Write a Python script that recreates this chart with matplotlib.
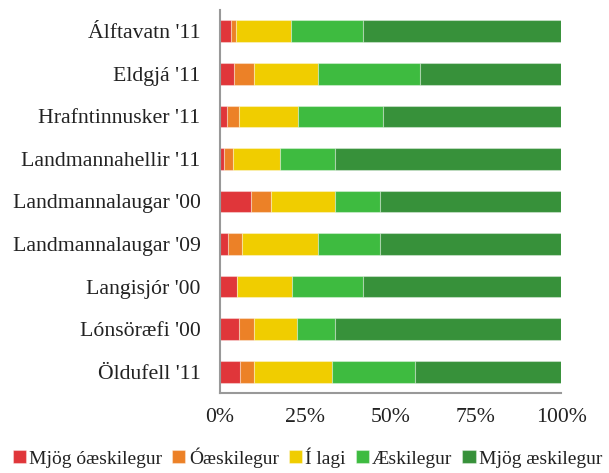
import matplotlib
matplotlib.use("Agg")
import matplotlib.pyplot as plt
from matplotlib.ticker import FuncFormatter

# Gögn lesin af myndinni (prósentur)
stadir = ["Álftavatn '11", "Eldgjá '11", "Hrafntinnusker '11", "Landmannahellir '11",
          "Landmannalaugar '00", "Landmannalaugar '09", "Langisjór '00",
          "Lónsöræfi '00", "Öldufell '11"]
flokkar = ["Mjög óæskilegur", "Óæskilegur", "Í lagi", "Æskilegur", "Mjög æskilegur"]
mjog_oaeskilegur = [3.2, 4.2, 2.0, 1.2, 9.2, 2.3, 5.1, 5.7, 5.9]
oaeskilegur = [1.5, 5.8, 3.7, 2.6, 5.7, 4.1, 0.0, 4.3, 4.1]
i_lagi = [16.1, 18.8, 17.2, 13.9, 18.8, 22.4, 16.1, 12.5, 22.8]
aeskilegur = [21.2, 29.9, 25.0, 16.0, 13.3, 18.2, 20.8, 11.2, 24.5]
mjog_aeskilegur = [58.0, 41.3, 52.1, 66.3, 53.0, 53.0, 58.0, 66.3, 42.7]
litir = ["#E0363A", "#EC8127", "#F0CD00", "#3EBB40", "#37913A"]

plt.rcParams['font.family'] = ['Liberation Serif', 'DejaVu Serif']

fig = plt.figure(figsize=(6.09, 4.73), dpi=100)
ax = fig.add_axes([220 / 609, 1 - 393 / 473, 341 / 609, 383 / 473])

radir = list(range(len(stadir)))
vinstri = [0.0] * len(stadir)
for gildi, nafn, litur in zip([mjog_oaeskilegur, oaeskilegur, i_lagi, aeskilegur, mjog_aeskilegur],
                              flokkar, litir):
    ax.barh(radir, gildi, left=vinstri, height=0.51, color=litur, label=nafn,
            edgecolor=(1, 1, 1, 0.35), linewidth=0.8)
    vinstri = [a + b for a, b in zip(vinstri, gildi)]

ax.set_xlim(0, 100)
ax.set_ylim(8.5, -0.5)
ax.set_yticks(radir)
ax.set_yticklabels(stadir)
ax.set_xticks([0, 25, 50, 75, 100])
ax.xaxis.set_major_formatter(FuncFormatter(lambda v, p: f"{int(v)}%"))
ax.tick_params(axis='both', length=0, labelsize=15.7, colors='#222222')
ax.tick_params(axis='y', pad=14)
ax.tick_params(axis='x', pad=11)

for s in ['top', 'right']:
    ax.spines[s].set_visible(False)
for s in ['left', 'bottom']:
    ax.spines[s].set_color('#999999')
    ax.spines[s].set_linewidth(1.5)

fig.legend(loc='lower center', ncol=5, bbox_to_anchor=(0.505, -0.005), frameon=False,
           handlelength=0.68, handleheight=0.68, handletextpad=0.18, columnspacing=0.5,
           fontsize=14, borderaxespad=0.0, labelcolor='#222222')

fig.savefig("out.png", dpi=100)
